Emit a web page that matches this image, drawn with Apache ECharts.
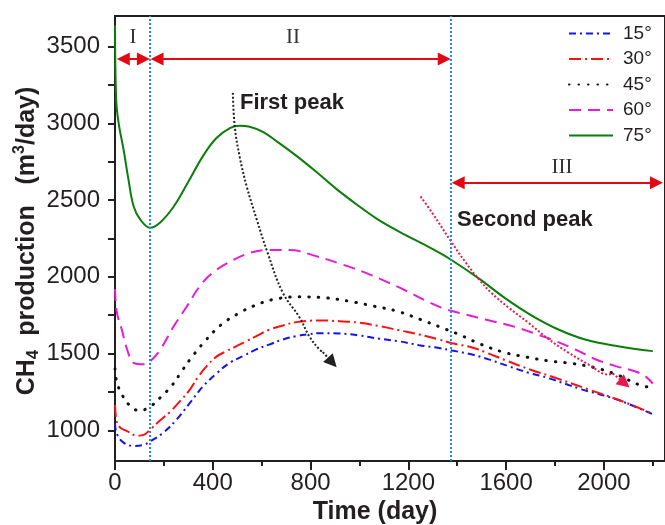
<!DOCTYPE html>
<html>
<head>
<meta charset="utf-8">
<script src="https://cdn.jsdelivr.net/npm/echarts@6/dist/echarts.min.js"></script>
<style>
html, body { margin: 0; padding: 0; background: #fff; }
#chart { width: 665px; height: 525px; }
</style>
</head>
<body>
<div id="chart"></div>
<script>
// values: time (day) and CH4 production (m3/day)
const days15 = [0, 8, 35, 76, 117, 144, 198, 253, 307, 361, 415, 470, 524, 578, 633, 687, 741, 789, 836, 918, 999, 1081, 1162, 1244, 1325, 1379, 1461, 1529, 1610, 1692, 1773, 1909, 2004, 2072, 2200]
const gas15 = [1045, 975, 920, 898, 905, 928, 985, 1072, 1180, 1288, 1370, 1440, 1484, 1527, 1560, 1592, 1614, 1625, 1633, 1631, 1618, 1597, 1580, 1555, 1536, 1520, 1494, 1462, 1418, 1375, 1340, 1267, 1225, 1190, 1105]

const days30 = [0, 8, 22, 49, 90, 117, 144, 185, 225, 266, 307, 341, 375, 415, 456, 497, 538, 578, 633, 687, 741, 836, 918, 999, 1081, 1162, 1244, 1325, 1379, 1461, 1521, 1600, 1700, 1800, 1936, 2072, 2200]
const gas30 = [1165, 1050, 1017, 995, 965, 970, 1005, 1065, 1120, 1190, 1267, 1350, 1418, 1480, 1516, 1548, 1581, 1614, 1657, 1683, 1705, 1716, 1711, 1701, 1679, 1652, 1625, 1592, 1567, 1540, 1505, 1455, 1395, 1343, 1267, 1191, 1108]

const days45 = [0, 8, 28, 55, 100, 144, 185, 232, 273, 307, 368, 436, 510, 565, 646, 755, 864, 958, 1060, 1155, 1250, 1338, 1407, 1495, 1590, 1685, 1780, 1868, 1963, 2051, 2147, 2200]
const gas45 = [1400, 1310, 1235, 1170, 1128, 1155, 1213, 1290, 1385, 1462, 1581, 1690, 1766, 1809, 1852, 1870, 1863, 1841, 1809, 1776, 1722, 1668, 1625, 1562, 1509, 1477, 1451, 1436, 1408, 1364, 1295, 1278]

const days60 = [0, 8, 28, 49, 76, 117, 144, 185, 239, 293, 347, 402, 483, 560, 619, 714, 823, 931, 1026, 1121, 1203, 1271, 1352, 1434, 1515, 1640, 1732, 1800, 1882, 1963, 2045, 2126, 2167, 2200]
const gas60 = [1920, 1765, 1655, 1530, 1440, 1430, 1450, 1525, 1675, 1805, 1940, 2030, 2110, 2160, 2175, 2175, 2135, 2080, 2026, 1961, 1900, 1845, 1790, 1755, 1722, 1672, 1622, 1583, 1527, 1465, 1420, 1385, 1355, 1305]

const days75 = [0, 5, 15, 35, 55, 76, 103, 144, 185, 239, 293, 361, 415, 470, 510, 551, 605, 660, 741, 823, 904, 986, 1070, 1162, 1298, 1373, 1488, 1597, 1705, 1814, 1923, 2058, 2200]
const gas75 = [3640, 3150, 3000, 2830, 2635, 2460, 2375, 2320, 2355, 2455, 2600, 2790, 2905, 2970, 2985, 2978, 2945, 2885, 2790, 2685, 2575, 2475, 2380, 2295, 2182, 2113, 1990, 1860, 1748, 1657, 1592, 1548, 1516]

// "First peak" / "Second peak" guide curves, in axis units
const firstPeakDays = [482, 490, 510, 539, 580, 624, 686, 755, 795, 836, 850]
const firstPeakVals = [3199, 2978, 2783, 2588, 2373, 2158, 1898, 1735, 1612, 1527, 1510]
const firstPeakHead = [[850, 1510], [889, 1442]]
const secondPeakDays = [1250, 1298, 1373, 1434, 1488, 1540, 1610, 1692, 1773, 1855, 1936, 2018, 2036]
const secondPeakVals = [2524, 2416, 2235, 2095, 1985, 1895, 1800, 1700, 1595, 1506, 1430, 1364, 1371]
const secondPeakHead = [[2036, 1371], [2085, 1306]]

// stage boundaries and stage arrows
const stageLines = [144, 1375]
const stageArrows = [
    [[34, 3420], [116, 3420]],
    [[172, 3420], [1347, 3420]],
    [[1404, 2614], [2215, 2614]]
]

const names = ['15°', '30°', '45°', '60°', '75°']
const xTicks = [0, 400, 800, 1200, 1600, 2000]
const xMinorTicks = [200, 600, 1000, 1400, 1800, 2200]
const yTicks = [1000, 1500, 2000, 2500, 3000, 3500]
const yAllTicks = [1000, 1250, 1500, 1750, 2000, 2250, 2500, 2750, 3000, 3250, 3500]

const pairs = (xs, ys) => xs.map((x, i) => [x, ys[i]])

const ink = '#231f20'
const font = 'Liberation Sans, Arial, sans-serif'

function curve(name, days, vals, color, type) {
    return {
        name: name,
        type: 'line',
        data: pairs(days, vals),
        symbol: 'none',
        smooth: 0.4,
        silent: true,
        lineStyle: { color: color, width: 2, type: type },
        itemStyle: { color: color }
    }
}

const s45 = curve('45°', days45, gas45, '#111111', [0.5, 9])
s45.lineStyle.cap = 'round'
s45.lineStyle.width = 3

const chart = echarts.init(document.getElementById('chart'))

chart.setOption({
    animation: false,
    grid: { left: 115, top: 16, right: -2, bottom: 64, show: true, borderColor: ink, borderWidth: 2 },
    legend: {
        data: names,
        orient: 'vertical',
        left: 568,
        top: 24,
        padding: 0,
        itemWidth: 44,
        itemHeight: 14,
        itemGap: 6.5,
        itemStyle: { color: 'transparent', borderWidth: 0 },
        textStyle: { fontSize: 19, color: ink, fontFamily: font, padding: [0, 0, 0, 5] }
    },
    xAxis: [
        {
            type: 'value', min: 0, max: 2250,
            axisLine: { lineStyle: { color: ink, width: 2 } },
            axisTick: { customValues: xTicks, length: 9, lineStyle: { color: ink, width: 2 } },
            axisLabel: { customValues: xTicks, formatter: v => String(v), fontSize: 24, color: ink, fontFamily: font, margin: 10 },
            splitLine: { show: false }
        },
        {
            type: 'value', min: 0, max: 2250, position: 'bottom',
            axisLine: { show: false },
            axisTick: { customValues: xMinorTicks, length: 5, lineStyle: { color: ink, width: 2 } },
            axisLabel: { show: false },
            splitLine: { show: false }
        }
    ],
    yAxis: {
        type: 'value', min: 800, max: 3700,
        axisLine: { show: true, lineStyle: { color: ink, width: 2 } },
        axisTick: { show: true, customValues: yAllTicks, length: 7, lineStyle: { color: ink, width: 2 } },
        axisLabel: { customValues: yTicks, formatter: v => String(v), fontSize: 24, color: ink, fontFamily: font, margin: 15 },
        splitLine: { show: false }
    },
    series: [
        curve('15°', days15, gas15, '#1414e6', [7, 4, 2, 4]),
        curve('30°', days30, gas30, '#ff1010', [12, 4, 2, 4]),
        s45,
        curve('60°', days60, gas60, '#ea1ad6', [12, 7]),
        curve('75°', days75, gas75, '#0b7d0b', 'solid'),
        {
            name: 'stages',
            type: 'line',
            data: [],
            silent: true,
            markLine: {
                silent: true,
                symbol: ['triangle', 'triangle'],
                symbolSize: 13,
                label: { show: false },
                lineStyle: { color: '#e10a14', width: 2, type: 'solid' },
                data: stageArrows.map(a => [{ coord: a[0] }, { coord: a[1] }])
                    .concat(stageLines.map(d => [
                        { coord: [d, 800], symbol: 'none', lineStyle: { color: '#1e8ae6', width: 2, type: [2, 2] } },
                        { coord: [d, 3700], symbol: 'none' }
                    ]))
            }
        },
        {
            name: 'first peak',
            type: 'line',
            data: pairs(firstPeakDays, firstPeakVals),
            symbol: 'none',
            smooth: 0.4,
            silent: true,
            lineStyle: { color: '#222', width: 2, type: [2, 2] },
            markLine: {
                silent: true,
                label: { show: false },
                symbolSize: 13,
                lineStyle: { color: '#222', width: 2, type: [2, 2] },
                data: [[{ coord: firstPeakHead[0], symbol: 'none' }, { coord: firstPeakHead[1], symbol: 'triangle' }]]
            }
        },
        {
            name: 'second peak',
            type: 'line',
            data: pairs(secondPeakDays, secondPeakVals),
            symbol: 'none',
            smooth: 0.4,
            silent: true,
            lineStyle: { color: '#e3194f', width: 2, type: [2, 2] },
            markLine: {
                silent: true,
                label: { show: false },
                symbolSize: 13,
                lineStyle: { color: '#e3194f', width: 2, type: [2, 2] },
                data: [[{ coord: secondPeakHead[0], symbol: 'none' }, { coord: secondPeakHead[1], symbol: 'triangle' }]]
            }
        }
    ],
    graphic: [
        { type: 'text', x: 133, y: 37, style: { text: 'I', font: '21px Liberation Serif, serif', fill: '#333', align: 'center', verticalAlign: 'middle' } },
        { type: 'text', x: 293, y: 37, style: { text: 'II', font: '21px Liberation Serif, serif', fill: '#333', align: 'center', verticalAlign: 'middle' } },
        { type: 'text', x: 562, y: 167, style: { text: 'III', font: '21px Liberation Serif, serif', fill: '#333', align: 'center', verticalAlign: 'middle' } },
        { type: 'text', x: 240, y: 103, style: { text: 'First peak', font: 'bold 22px Liberation Sans, Arial', fill: ink, align: 'left', verticalAlign: 'middle' } },
        { type: 'text', x: 457, y: 220, style: { text: 'Second peak', font: 'bold 22px Liberation Sans, Arial', fill: ink, align: 'left', verticalAlign: 'middle' } },
        { type: 'text', x: 375, y: 512, style: { text: 'Time (day)', font: 'bold 25px Liberation Sans, Arial', fill: ink, align: 'center', verticalAlign: 'middle' } },
        {
            type: 'text', x: 27, y: 241, rotation: Math.PI / 2,
            style: {
                text: '{b|CH}{s|4}{b|  production   (m}{p|3}{b|/day)}',
                align: 'center', verticalAlign: 'middle', fill: ink,
                rich: {
                    b: { fontSize: 25, fontWeight: 'bold', fontFamily: font, lineHeight: 30, fill: ink },
                    s: { fontSize: 17, fontWeight: 'bold', fontFamily: font, verticalAlign: 'bottom', fill: ink },
                    p: { fontSize: 16, fontWeight: 'bold', fontFamily: font, verticalAlign: 'top', fill: ink }
                }
            }
        }
    ]
})
</script>
</body>
</html>
